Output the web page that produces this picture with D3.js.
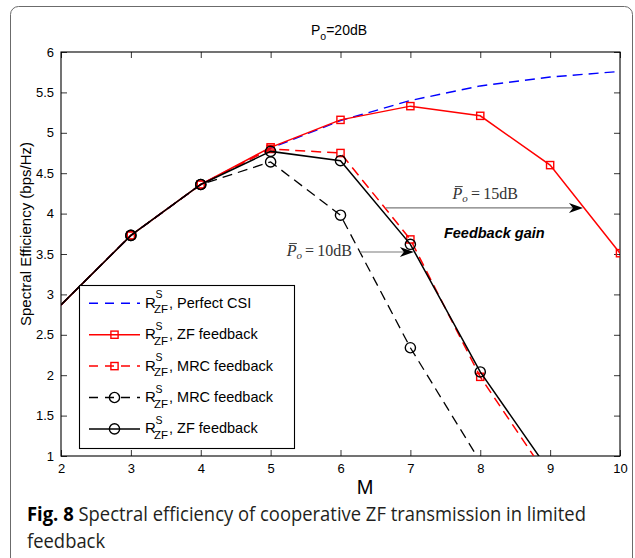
<!DOCTYPE html>
<html>
<head>
<meta charset="utf-8">
<script src="https://cdn.jsdelivr.net/npm/d3@7"></script>
<style>
  html, body { margin: 0; padding: 0; background: #fff; }
  svg { display: block; }
</style>
</head>
<body>
<svg id="chart" width="635" height="558"></svg>
<script>
// Number of antennas M on the horizontal axis
const M = [2, 3, 4, 5, 6, 7, 8, 9, 10];

// Spectral efficiency (bps/Hz) per curve; curves that leave the axes stop once below y = 1
const perfectCSI   = [2.87, 3.73, 4.36, 4.81, 5.15, 5.40, 5.58, 5.69, 5.76];
const zfFbRed      = [2.87, 3.73, 4.36, 4.82, 5.16, 5.33, 5.21, 4.60, 3.51];
const mrcFbRed     = [2.87, 3.73, 4.36, 4.80, 4.75, 3.68, 1.98, 0.70];
const mrcFbBlack   = [2.87, 3.73, 4.36, 4.64, 3.98, 2.34, 0.93];
const zfFbBlack    = [2.87, 3.73, 4.36, 4.77, 4.655, 3.62, 2.04, 0.80];

const xTicks = [2, 3, 4, 5, 6, 7, 8, 9, 10];
const yTicks = [1, 1.5, 2, 2.5, 3, 3.5, 4, 4.5, 5, 5.5, 6];

const legendLabels = [", Perfect CSI", ", ZF feedback", ", MRC feedback", ", MRC feedback", ", ZF feedback"];

const series = [
  { values: perfectCSI, color: "#0000ff", dash: "10,6", marker: null,     width: 1.4 },
  { values: zfFbRed,    color: "#ff0000", dash: null,   marker: "square", width: 1.5 },
  { values: mrcFbRed,   color: "#ff0000", dash: "10,6", marker: "square", width: 1.5 },
  { values: mrcFbBlack, color: "#000000", dash: "10,6", marker: "circle", width: 1.3 },
  { values: zfFbBlack,  color: "#000000", dash: null,   marker: "circle", width: 1.5 }
];

const svg = d3.select("#chart");
const axisFont = "'Liberation Sans', Arial, Helvetica, sans-serif";

// outer figure frame
svg.append("rect")
  .attr("x", 10.5).attr("y", 6.5)
  .attr("width", 622).attr("height", 570)
  .attr("rx", 8).attr("ry", 8)
  .attr("fill", "none").attr("stroke", "#6b6b6b").attr("stroke-width", 1);

const plot = { left: 61, right: 620, top: 52, bottom: 456 };
const x = d3.scaleLinear().domain([2, 10]).range([plot.left, plot.right]);
const y = d3.scaleLinear().domain([1, 6]).range([plot.bottom, plot.top]);

svg.append("defs").append("clipPath").attr("id", "plotClip")
  .append("rect")
  .attr("x", plot.left).attr("y", plot.top)
  .attr("width", plot.right - plot.left).attr("height", plot.bottom - plot.top);

// axes with inward ticks on all four sides
const styleAxis = g => {
  g.select(".domain").remove();
  g.selectAll(".tick line").attr("stroke", "#000").attr("stroke-width", 0.8);
  g.selectAll("text").attr("font-family", axisFont).attr("font-size", 13).attr("fill", "#000");
};
svg.append("g").attr("transform", `translate(0,${plot.bottom})`)
  .call(d3.axisBottom(x).tickValues(xTicks).tickSizeInner(-6).tickSizeOuter(0).tickPadding(8).tickFormat(d => d))
  .call(styleAxis);
svg.append("g").attr("transform", `translate(0,${plot.top})`)
  .call(d3.axisTop(x).tickValues(xTicks).tickSizeInner(-6).tickSizeOuter(0).tickFormat(""))
  .call(styleAxis);
svg.append("g").attr("transform", `translate(${plot.left},0)`)
  .call(d3.axisLeft(y).tickValues(yTicks).tickSizeInner(-6).tickSizeOuter(0).tickPadding(7).tickFormat(d => d))
  .call(styleAxis);
svg.append("g").attr("transform", `translate(${plot.right},0)`)
  .call(d3.axisRight(y).tickValues(yTicks).tickSizeInner(-6).tickSizeOuter(0).tickFormat(""))
  .call(styleAxis);

svg.append("rect")
  .attr("x", plot.left).attr("y", plot.top)
  .attr("width", plot.right - plot.left).attr("height", plot.bottom - plot.top)
  .attr("fill", "none").attr("stroke", "#000").attr("stroke-width", 1.1);

// title
const title = svg.append("text")
  .attr("x", 311).attr("y", 35)
  .attr("font-family", axisFont).attr("font-size", 14).attr("fill", "#000");
title.append("tspan").text("P");
title.append("tspan").attr("font-size", 10.5).attr("dy", 5).text("o");
title.append("tspan").attr("dy", -5).text("=20dB");

// axis labels
svg.append("text")
  .attr("transform", "translate(31,234) rotate(-90)")
  .attr("text-anchor", "middle")
  .attr("font-family", axisFont).attr("font-size", 15).attr("fill", "#000")
  .text("Spectral Efficiency (bps/Hz)");
svg.append("text")
  .attr("x", 365).attr("y", 494)
  .attr("text-anchor", "middle")
  .attr("font-family", axisFont).attr("font-size", 20).attr("fill", "#000")
  .text("M");

// curves
const line = d3.line().x(d => x(d[0])).y(d => y(d[1]));
const curves = svg.append("g").attr("clip-path", "url(#plotClip)");

function drawMarker(g, kind, cx, cy, color) {
  if (kind === "square") {
    g.append("rect")
      .attr("x", cx - 3.6).attr("y", cy - 3.6).attr("width", 7.2).attr("height", 7.2)
      .attr("fill", "none").attr("stroke", color).attr("stroke-width", 1.4);
  } else if (kind === "circle") {
    g.append("circle")
      .attr("cx", cx).attr("cy", cy).attr("r", 5.1)
      .attr("fill", "none").attr("stroke", color).attr("stroke-width", 1.4);
  }
}

series.forEach(s => {
  const pts = s.values.map((v, i) => [M[i], v]);
  curves.append("path")
    .attr("d", line(pts))
    .attr("fill", "none")
    .attr("stroke", s.color)
    .attr("stroke-width", s.width)
    .attr("stroke-dasharray", s.dash);
  if (s.marker) {
    // markers sitting on the left limit of the axes are not drawn
    pts.filter(p => p[0] > x.domain()[0])
      .forEach(p => drawMarker(curves, s.marker, x(p[0]), y(p[1]), s.color));
  }
});

// annotations: arrows and labels, placed in data units
const arrowDefs = [
  { from: [6.65, 4.07], to: [9.47, 4.07] },
  { from: [6.28, 3.525], to: [7.05, 3.525] }
];
arrowDefs.forEach(a => {
  const x0 = x(a.from[0]), x1 = x(a.to[0]), yy = y(a.from[1]);
  svg.append("line")
    .attr("x1", x0).attr("x2", x1 - 6).attr("y1", yy).attr("y2", yy)
    .attr("stroke", "#7a7a7a").attr("stroke-width", 1.2);
  svg.append("path")
    .attr("d", `M${x1},${yy} L${x1 - 14},${yy - 5} L${x1 - 10},${yy} L${x1 - 14},${yy + 5} Z`)
    .attr("fill", "#000");
});

const serif = "'Liberation Serif', 'Times New Roman', serif";
function powerLabel(xv, yv, anchor, dbText) {
  const t = svg.append("text")
    .attr("x", x(xv)).attr("y", y(yv))
    .attr("text-anchor", anchor)
    .attr("font-family", serif).attr("font-size", 16).attr("fill", "#333");
  t.append("tspan").attr("font-style", "italic").text("P");
  t.append("tspan").attr("font-style", "italic").attr("font-size", 11).attr("dy", 3).text("o");
  t.append("tspan").attr("dy", -3).text("\u2009=\u2009" + dbText);
  const e = t.node().getExtentOfChar(0);
  svg.append("line")
    .attr("x1", e.x + 2.5).attr("x2", e.x + e.width + 0.5)
    .attr("y1", e.y + 1.5).attr("y2", e.y + 1.5)
    .attr("stroke", "#333").attr("stroke-width", 0.9);
}
powerLabel(8.07, 4.18, "middle", "15dB");
powerLabel(6.165, 3.475, "end", "10dB");

svg.append("text")
  .attr("x", x(7.48)).attr("y", y(3.70))
  .attr("font-family", axisFont).attr("font-size", 14.5)
  .attr("font-weight", "bold").attr("font-style", "italic").attr("fill", "#000")
  .text("Feedback gain");

// legend
const legend = svg.append("g");
legend.append("rect")
  .attr("x", 79.5).attr("y", 285.5).attr("width", 215).attr("height", 163)
  .attr("fill", "#fff").attr("stroke", "#000").attr("stroke-width", 1.1);
series.forEach((s, i) => {
  const ry = 303.3 + i * 31.4;
  legend.append("line")
    .attr("x1", 89).attr("x2", 140).attr("y1", ry).attr("y2", ry)
    .attr("stroke", s.color).attr("stroke-width", s.width)
    .attr("stroke-dasharray", s.dash ? "9,7" : null);
  if (s.marker) drawMarker(legend, s.marker, 114.5, ry, s.color);
  const tg = legend.append("g").attr("font-family", axisFont).attr("fill", "#000");
  tg.append("text").attr("x", 145).attr("y", ry + 4.5).attr("font-size", 15).text("R");
  tg.append("text").attr("x", 155.5).attr("y", ry - 5).attr("font-size", 10.5).text("S");
  tg.append("text").attr("x", 154).attr("y", ry + 10).attr("font-size", 11.5).text("ZF");
  tg.append("text").attr("x", 169).attr("y", ry + 4.5).attr("font-size", 14.5).text(legendLabels[i]);
});

// caption
const capFont = "'Open Sans', 'Noto Sans', sans-serif";
const cap1 = svg.append("text")
  .attr("font-family", capFont).attr("font-size", 20).attr("fill", "#231f20");
cap1.append("tspan").attr("font-weight", "bold").attr("fill", "#000").text("Fig. 8");
cap1.append("tspan").text(" Spectral efficiency of cooperative ZF transmission in limited");
const cap2 = svg.append("text")
  .attr("font-family", capFont).attr("font-size", 20).attr("fill", "#231f20")
  .text("feedback");
const w1 = cap1.node().getComputedTextLength();
const sx = 559 / w1;
cap1.attr("transform", `translate(27,521) scale(${sx},1)`);
cap2.attr("transform", `translate(27,548) scale(${sx},1)`);
</script>
</body>
</html>
